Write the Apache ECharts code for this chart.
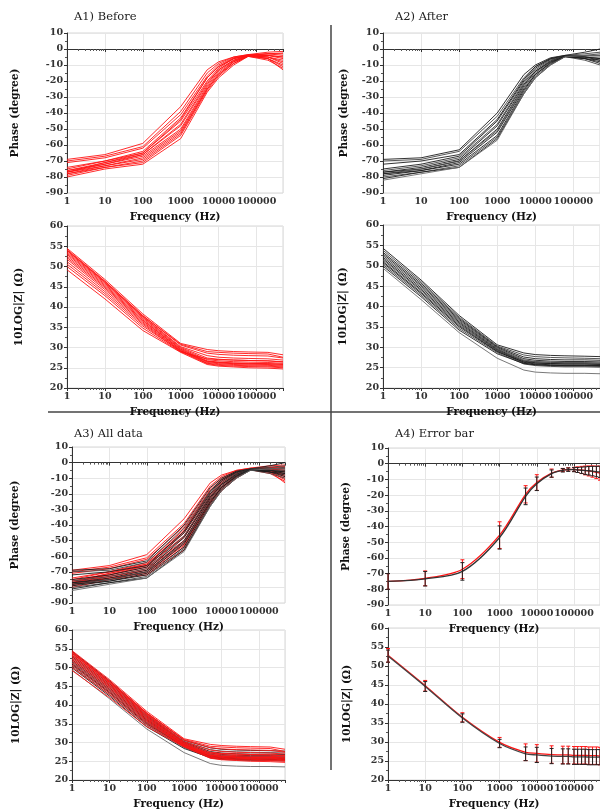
<!DOCTYPE html>
<html>
<head>
<meta charset="utf-8">
<script src="https://cdn.jsdelivr.net/npm/echarts@6/dist/echarts.min.js"></script>
<style>
html, body { margin: 0; padding: 0; background: #fff; }
#chart { width: 600px; height: 811px; }
</style>
</head>
<body>
<div id="chart"></div>
<script>
// frequencies of the individual curves (Hz)
const freq = [1, 10, 100, 1000, 5000, 10000, 25000, 60000, 200000, 500000];

// A1 before (red) - phase, degree
const beforePhase = [
  [-69, -66, -59, -36, -13, -8, -5, -3.5, -2, -1.5],
  [-70, -67, -61, -39, -15, -9, -5, -3.6, -3, -3],
  [-71, -68, -62, -41, -17, -10, -5.5, -3.8, -4, -5],
  [-74, -70, -64, -43, -18, -11, -6, -4, -5, -7],
  [-75, -70, -65, -45, -20, -12, -6, -4, -3, -4],
  [-76, -71, -66, -47, -21, -13, -7, -4.2, -5, -9],
  [-76, -72, -66, -48, -22, -13, -7, -4, -6, -11],
  [-77, -72, -67, -50, -23, -14, -7.5, -4.3, -4, -6],
  [-77, -73, -68, -51, -24, -15, -8, -4.4, -6, -13],
  [-78, -73, -69, -52, -25, -16, -8, -4.5, -5, -8],
  [-78, -74, -70, -53, -25, -16, -9, -4.5, -4, -5],
  [-79, -74, -71, -54, -26, -17, -9, -4.6, -6, -10],
  [-80, -75, -72, -56, -27, -18, -10, -4.6, -7, -12],
  [-77, -71, -65, -44, -18, -11, -6, -4, -3, -2.5]
];

// A1 before (red) - 10LOG|Z|
const beforeZ = [
  [54.5, 46.8, 38.3, 31.0, 29.5, 29.2, 29.0, 28.9, 28.8, 28.2],
  [54.2, 46.4, 37.9, 30.6, 28.6, 28.3, 28.1, 28.0, 27.9, 27.4],
  [53.9, 46.1, 37.6, 30.2, 28.0, 27.6, 27.4, 27.3, 27.2, 26.9],
  [53.6, 45.9, 37.4, 30.0, 27.4, 27.1, 26.9, 26.8, 26.7, 26.5],
  [53.3, 45.6, 37.1, 29.8, 27.0, 26.7, 26.5, 26.4, 26.3, 26.1],
  [53.0, 45.3, 36.8, 29.6, 26.7, 26.4, 26.2, 26.1, 26.0, 25.8],
  [52.6, 45.0, 36.6, 29.5, 26.5, 26.2, 26.0, 25.9, 25.8, 25.6],
  [52.2, 44.7, 36.3, 29.3, 26.3, 26.0, 25.8, 25.7, 25.6, 25.4],
  [51.8, 44.3, 36.0, 29.2, 26.1, 25.8, 25.6, 25.5, 25.4, 25.2],
  [51.2, 43.8, 35.7, 29.0, 26.0, 25.6, 25.4, 25.3, 25.2, 25.0],
  [50.6, 43.3, 35.3, 29.1, 26.6, 26.3, 26.1, 26.0, 26.0, 25.9],
  [50.0, 42.8, 34.8, 28.9, 27.2, 27.0, 26.9, 26.8, 26.7, 26.4],
  [49.2, 42.0, 34.2, 28.8, 25.8, 25.4, 25.2, 25.0, 24.9, 24.7],
  [54.0, 46.3, 37.8, 30.8, 29.0, 28.8, 28.6, 28.5, 28.4, 27.6]
];

// A2 after (black) - phase, degree
const afterPhase = [
  [-69, -68, -63, -40, -16, -10, -5.5, -4, -2, 0],
  [-70, -69, -64, -42, -18, -11, -6, -4, -3, -2],
  [-72, -70, -66, -44, -19, -11, -6, -4.2, -4, -4],
  [-75, -72, -67, -45, -20, -12, -6.5, -4.3, -5, -6],
  [-76, -73, -68, -47, -21, -13, -7, -4.4, -4, -3],
  [-77, -74, -69, -48, -22, -14, -7.5, -4.5, -5, -7],
  [-77, -75, -70, -50, -23, -14, -8, -4.5, -6, -9],
  [-78, -75, -70, -51, -24, -15, -8, -4.6, -5, -5],
  [-78, -76, -71, -52, -25, -16, -8.5, -4.6, -6, -8],
  [-79, -76, -72, -54, -26, -16, -9, -4.7, -5, -6],
  [-80, -77, -73, -55, -27, -17, -9.5, -4.8, -7, -10],
  [-81, -77, -74, -56, -28, -18, -10, -4.8, -6, -7],
  [-82, -78, -74, -57, -28, -18, -10, -4.9, -4, -4]
];

// A2 after (black) - 10LOG|Z|
const afterZ = [
  [54.3, 46.5, 37.8, 30.6, 28.6, 28.2, 28.0, 27.9, 27.8, 27.7],
  [53.8, 46.1, 37.4, 30.3, 28.1, 27.7, 27.5, 27.4, 27.3, 27.2],
  [53.3, 45.7, 37.1, 30.1, 27.6, 27.2, 27.0, 26.9, 26.9, 26.8],
  [52.9, 45.3, 36.8, 29.9, 27.2, 26.8, 26.6, 26.5, 26.5, 26.4],
  [52.5, 45.0, 36.5, 29.7, 26.9, 26.5, 26.3, 26.2, 26.2, 26.1],
  [52.1, 44.6, 36.2, 29.5, 26.6, 26.2, 26.0, 25.9, 25.9, 25.8],
  [51.7, 44.2, 35.9, 29.3, 26.3, 25.9, 25.7, 25.6, 25.6, 25.5],
  [51.4, 43.9, 35.6, 29.2, 26.7, 26.4, 26.3, 26.2, 26.2, 26.1],
  [51.0, 43.5, 35.3, 29.0, 26.1, 25.7, 25.5, 25.4, 25.4, 25.3],
  [50.7, 43.2, 35.0, 28.9, 26.4, 26.1, 26.0, 25.9, 25.9, 25.8],
  [50.3, 42.8, 34.6, 28.7, 25.9, 25.5, 25.3, 25.2, 25.2, 25.1],
  [49.9, 42.4, 34.2, 28.4, 26.0, 25.7, 25.6, 25.5, 25.5, 25.5],
  [49.4, 41.7, 33.6, 27.3, 24.4, 23.9, 23.7, 23.6, 23.6, 23.5]
];

// A4 mean +- error, on its own frequency list
const freqMean = [1, 10, 100, 1000, 5000, 10000, 25000, 50000, 70000, 100000, 125000, 160000, 200000, 250000, 315000, 400000, 500000];
const meanPhaseBefore = [-75, -73, -67.2, -45.5, -19.5, -12, -6, -4, -3.6, -3.6, -3.8, -4, -4.3, -4.6, -5, -5.5, -6];
const meanPhaseAfter = [-75, -73.3, -68.6, -47, -20.8, -12.8, -6.3, -4.2, -3.8, -3.8, -4, -4.2, -4.4, -4.5, -4.7, -5, -5.2];
const errPhaseBefore = [5, 4.7, 6, 8.5, 5.5, 5, 2.6, 1, 1, 1.3, 1.8, 2.3, 2.8, 3.2, 3.6, 4, 4.5];
const errPhaseAfter = [5, 4.6, 5.6, 7.4, 5.3, 4.3, 2.3, 1.1, 1.1, 1.3, 1.6, 2, 2.4, 2.7, 3, 3.3, 3.6];
const meanZBefore = [52.8, 44.8, 36.5, 29.9, 27.3, 27.0, 26.7, 26.6, 26.6, 26.5, 26.5, 26.5, 26.5, 26.4, 26.4, 26.4, 26.3];
const meanZAfter = [52.6, 44.6, 36.3, 29.6, 26.9, 26.6, 26.3, 26.2, 26.2, 26.1, 26.1, 26.1, 26.1, 26.0, 26.0, 26.0, 26.0];
const errZBefore = [1.8, 1.4, 1.2, 1.3, 2.2, 2.3, 2.3, 2.3, 2.3, 2.3, 2.3, 2.3, 2.3, 2.3, 2.3, 2.3, 2.3];
const errZAfter = [1.6, 1.3, 1.1, 1.1, 1.8, 2.0, 2.0, 2.0, 2.0, 2.0, 2.0, 2.0, 2.0, 2.0, 2.0, 2.0, 2.0];

const RED = '#ff1414';
const BLACK = '#1c1c1c';
const FONT = '"DejaVu Serif", serif';

const chart = echarts.init(document.getElementById('chart'));

// grid boxes: A1 phase, A1 Z, A2 phase, A2 Z, A3 phase, A3 Z, A4 phase, A4 Z
const grids = [
  { left: 67, top: 33, width: 216, height: 160 },
  { left: 67, top: 226, width: 216, height: 162 },
  { left: 383, top: 33, width: 222, height: 160 },
  { left: 383, top: 225, width: 222, height: 163 },
  { left: 72, top: 447, width: 213, height: 156 },
  { left: 72, top: 630, width: 213, height: 151 },
  { left: 388, top: 448, width: 222, height: 157 },
  { left: 388, top: 628, width: 222, height: 153 }
];
const isPhase = [true, false, true, false, true, false, true, false];
const yNameGap = [46, 42, 33, 34, 51, 50, 36, 35];

const xAxes = grids.map((g, i) => ({
  type: 'log',
  logBase: 10,
  gridIndex: i,
  min: 1,
  max: 500000,
  name: 'Frequency (Hz)',
  nameLocation: 'middle',
  nameGap: 19,
  nameTextStyle: { fontFamily: FONT, fontWeight: 'bold', fontSize: 10.5, color: '#111' },
  axisLine: { show: true, lineStyle: { color: '#333', width: 1 } },
  axisTick: { show: true, length: 3, lineStyle: { color: '#333' } },
  minorTick: { show: true, splitNumber: 9, length: 2, lineStyle: { color: '#555' } },
  axisLabel: {
    fontFamily: FONT, fontSize: 9.5, fontWeight: 'bold', color: '#333', margin: 4,
    showMaxLabel: false,
    formatter: v => String(Math.round(v))
  },
  splitLine: { show: true, lineStyle: { color: '#e6e6e6', width: 1 } }
}));

const yAxes = grids.map((g, i) => ({
  type: 'value',
  gridIndex: i,
  min: isPhase[i] ? -90 : 20,
  max: isPhase[i] ? 10 : 60,
  interval: isPhase[i] ? 10 : 5,
  name: isPhase[i] ? 'Phase (degree)' : '10LOG|Z| (Ω)',
  nameLocation: 'middle',
  nameGap: yNameGap[i],
  nameTextStyle: { fontFamily: FONT, fontWeight: 'bold', fontSize: 10.5, color: '#111' },
  axisLine: { show: true, lineStyle: { color: '#333', width: 1 } },
  axisTick: { show: true, length: 3, lineStyle: { color: '#333' } },
  minorTick: { show: true, splitNumber: 2, length: 2, lineStyle: { color: '#555' } },
  axisLabel: { fontFamily: FONT, fontSize: 9.5, fontWeight: 'bold', color: '#333', margin: 4 },
  splitLine: { show: true, lineStyle: { color: '#e6e6e6', width: 1 } }
}));

function curves(rows, gi, color, width) {
  return rows.map((row, r) => ({
    type: 'line',
    xAxisIndex: gi,
    yAxisIndex: gi,
    data: freq.map((f, k) => [f, row[k]]),
    symbol: 'none',
    silent: true,
    lineStyle: { color: typeof color === 'function' ? color(r) : color, width: width }
  }));
}

function meanLine(vals, gi, color, z) {
  return {
    type: 'line',
    xAxisIndex: gi,
    yAxisIndex: gi,
    data: freqMean.map((f, k) => [f, vals[k]]),
    symbol: 'none',
    smooth: 0.3,
    silent: true,
    z: z,
    lineStyle: { color: color, width: 1.3 }
  };
}

function errorBars(mean, err, gi, color, z) {
  return {
    type: 'custom',
    xAxisIndex: gi,
    yAxisIndex: gi,
    silent: true,
    z: z,
    clip: false,
    data: freqMean.map((f, k) => [f, mean[k] - err[k], mean[k] + err[k]]),
    encode: { x: 0, y: [1, 2] },
    renderItem: (params, api) => {
      const lo = api.coord([api.value(0), api.value(1)]);
      const hi = api.coord([api.value(0), api.value(2)]);
      const w = 2;
      const st = { stroke: color, lineWidth: 1 };
      return {
        type: 'group',
        children: [
          { type: 'line', shape: { x1: lo[0], y1: lo[1], x2: hi[0], y2: hi[1] }, style: st },
          { type: 'line', shape: { x1: lo[0] - w, y1: lo[1], x2: lo[0] + w, y2: lo[1] }, style: st },
          { type: 'line', shape: { x1: hi[0] - w, y1: hi[1], x2: hi[0] + w, y2: hi[1] }, style: st }
        ]
      };
    }
  };
}

const afterColor = r => (r === afterZ.length - 1 ? '#6a6a6a' : (r % 3 === 1 ? '#444' : BLACK));

const series = [].concat(
  curves(beforePhase, 0, RED, 0.9),
  curves(beforeZ, 1, RED, 0.9),
  curves(afterPhase, 2, afterColor, 0.9),
  curves(afterZ, 3, afterColor, 0.9),
  curves(beforePhase, 4, RED, 0.9),
  curves(afterPhase, 4, afterColor, 0.9),
  curves(afterZ, 5, afterColor, 0.9),
  curves(beforeZ, 5, RED, 0.9),
  [
    errorBars(meanPhaseBefore, errPhaseBefore, 6, RED, 3),
    meanLine(meanPhaseBefore, 6, RED, 4),
    meanLine(meanPhaseAfter, 6, '#333', 5),
    errorBars(meanPhaseAfter, errPhaseAfter, 6, '#222', 6),
    errorBars(meanZBefore, errZBefore, 7, RED, 3),
    meanLine(meanZBefore, 7, RED, 4),
    meanLine(meanZAfter, 7, '#444', 5),
    errorBars(meanZAfter, errZAfter, 7, '#222', 6)
  ]
);

const titleFont = '11.5px ' + FONT;

const option = {
  animation: false,
  backgroundColor: '#fff',
  grid: grids.map(g => Object.assign({ show: true, borderColor: '#d6d6d6', borderWidth: 1, containLabel: false }, g)),
  xAxis: xAxes,
  yAxis: yAxes,
  series: series,
  graphic: [
    { type: 'text', x: 74, y: 11, style: { text: 'A1) Before', font: titleFont, fill: '#222' } },
    { type: 'text', x: 395, y: 11, style: { text: 'A2) After', font: titleFont, fill: '#222' } },
    { type: 'text', x: 74, y: 428, style: { text: 'A3) All data', font: titleFont, fill: '#222' } },
    { type: 'text', x: 395, y: 428, style: { text: 'A4) Error bar', font: titleFont, fill: '#222' } },
    { type: 'line', shape: { x1: 331, y1: 25, x2: 331, y2: 770 }, style: { stroke: '#444', lineWidth: 1.5 } },
    { type: 'line', shape: { x1: 48, y1: 412, x2: 600, y2: 412 }, style: { stroke: '#444', lineWidth: 1.5 } }
  ]
};

chart.setOption(option);
window.addEventListener('resize', () => chart.resize());
</script>
</body>
</html>
